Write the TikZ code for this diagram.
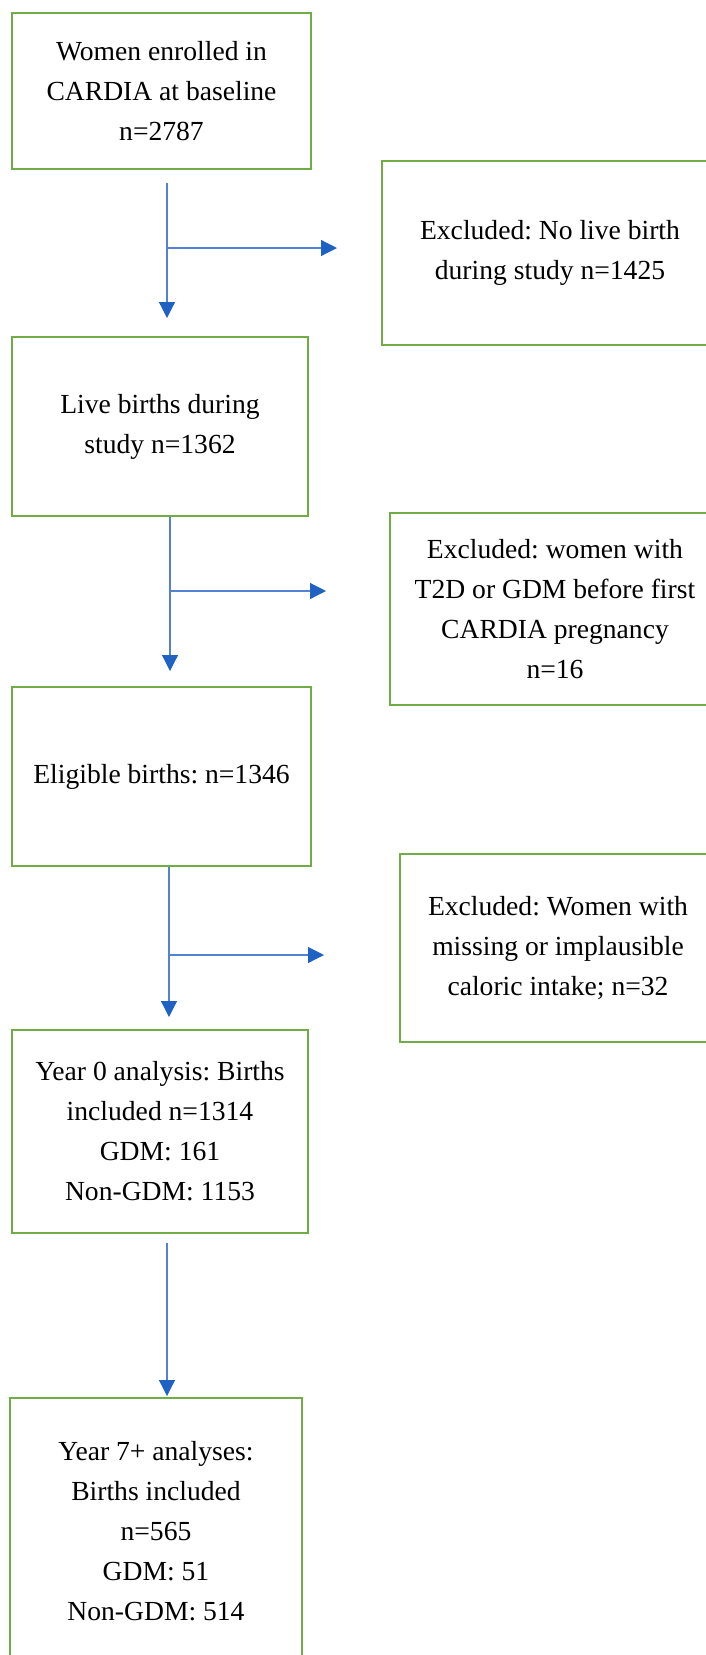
\documentclass[tikz,border=0pt]{standalone}
\usepackage{fontspec}
\setmainfont{Liberation Serif}
\usetikzlibrary{arrows.meta,calc,positioning}

\definecolor{boxgreen}{RGB}{112,173,71}
\definecolor{flowblue}{RGB}{84,130,210}
\definecolor{tipblue}{RGB}{31,98,196}

\tikzset{
  stage/.style={draw=boxgreen, line width=1pt, align=center, inner sep=0pt,
    font=\fontsize{13.8}{20}\selectfont\frenchspacing},
  flow/.style={draw=flowblue, line width=0.6pt,
    -{Triangle[length=8pt,width=8pt,color=tipblue]}},
}

\begin{document}
\begin{tikzpicture}[x=0.5pt, y=-0.5pt]

  \clip (0,0) rectangle (706,1655);

  % main column
  \node (b1) [stage, minimum width=149.5pt, minimum height=78pt] at (161.5,91)
    {Women enrolled in\\CARDIA at baseline\\n=2787};
  \node (b2) [stage, minimum width=148pt, minimum height=89.5pt] at (160,426.5)
    {Live births during\\study n=1362};
  \node (b3) [stage, minimum width=149.5pt, minimum height=89.5pt] at (161.5,776.5)
    {Eligible births: n=1346};
  \node (b4) [stage, minimum width=148pt, minimum height=101.5pt] at (160,1131.5)
    {Year 0 analysis: Births\\included n=1314\\GDM: 161\\Non-GDM: 1153};
  \node (b5) [stage, minimum width=146pt, minimum height=133pt] at (156,1531)
    {Year 7+ analyses:\\Births included\\n=565\\GDM: 51\\Non-GDM: 514};

  % exclusions
  \node (e1) [stage, minimum width=168pt, minimum height=92pt] at (550,253)
    {Excluded: No live birth\\during study n=1425};
  \node (e2) [stage, minimum width=165pt, minimum height=96pt] at (555,609)
    {Excluded: women with\\T2D or GDM before first\\CARDIA pregnancy\\n=16};
  \node (e3) [stage, minimum width=158pt, minimum height=94pt] at (558,948)
    {Excluded: Women with\\missing or implausible\\caloric intake; n=32};

  \coordinate (j1) at ($(b1.south)+(5.5,78)$);
  \coordinate (t1) at ($(e1.west |- j1)+(-44,0)$);
  \coordinate (j2) at ($(b2.south)+(10,74)$);
  \coordinate (t2) at ($(e2.west |- j2)+(-63,0)$);
  \coordinate (j3) at ($(b3.south)+(7.5,88)$);
  \coordinate (t3) at ($(e3.west |- j3)+(-75,0)$);

  \draw [flow] ($(b1.south)+(5.5,13)$) -- ($(b2.north)+(7,-18)$) ;

  \draw [flow] (j1) -- (t1) ;

  \draw [flow] ($(b2.south)+(10,0)$) -- ($(b3.north)+(8.5,-15)$) ;

  \draw [flow] (j2) -- (t2) ;

  \draw [flow] ($(b3.south)+(7.5,0)$) -- ($(b4.north)+(9,-12)$) ;

  \draw [flow] (j3) -- (t3) ;

  \draw [flow] ($(b4.south)+(7,9)$) -- ($(b5.north)+(11,-1)$) ;

\end{tikzpicture}
\end{document}
